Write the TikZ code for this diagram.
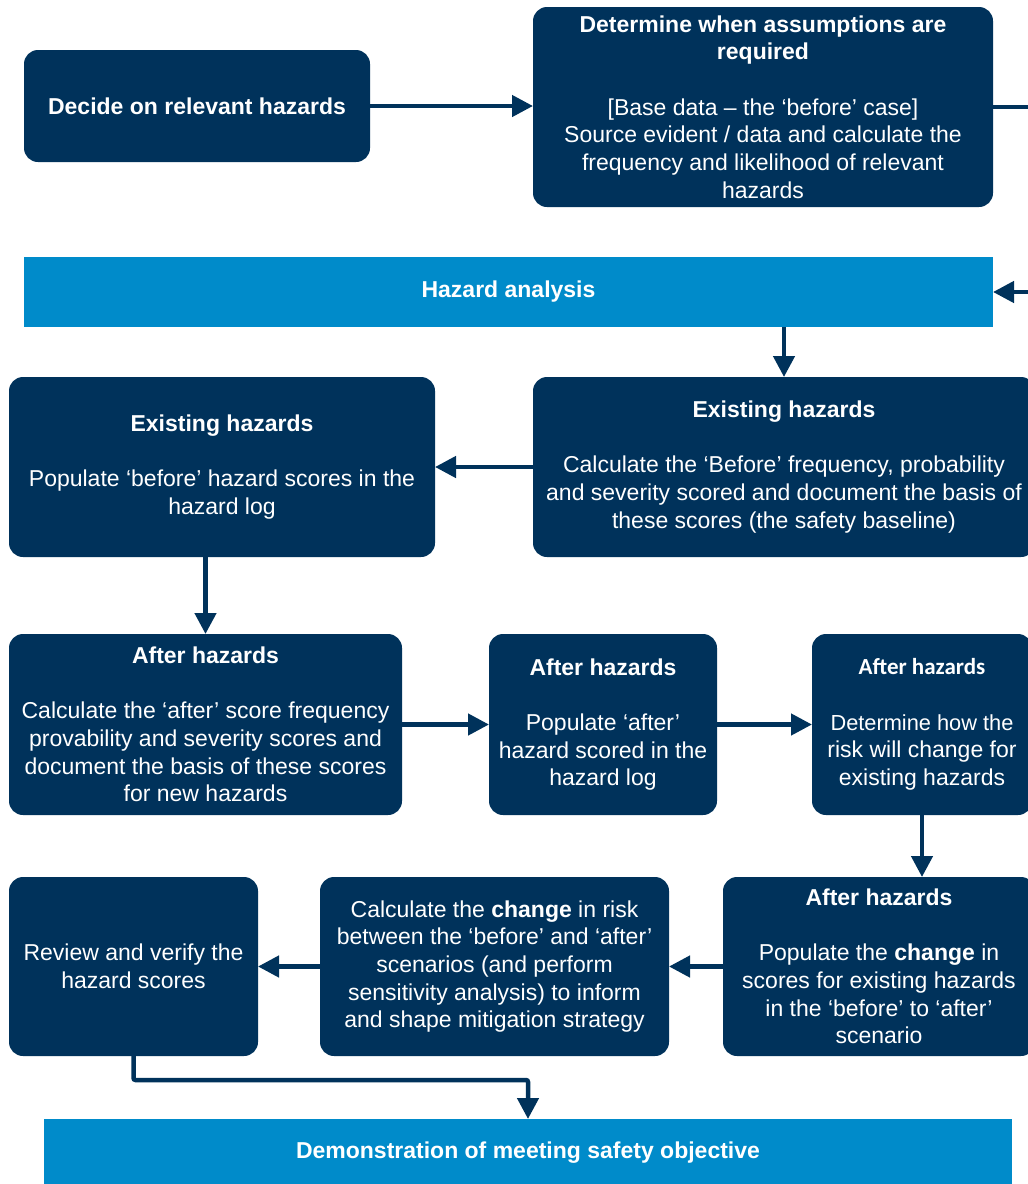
\documentclass[tikz,border=0pt]{standalone}
\usepackage{fontspec}
\setmainfont{Liberation Sans}
\newfontfamily\carlito{Carlito}
\usetikzlibrary{arrows.meta}
\definecolor{navy}{HTML}{00325B}
\definecolor{skyblue}{HTML}{008BCA}

\begin{document}
\begin{tikzpicture}[x = 1pt, y = -1pt, line width = 4.5pt,
  navybox/.style = {fill = navy, rounded corners = 14pt, text = white, align = center,
    inner sep = 0pt, outer sep = 0pt, font = \fontsize{23}{27.7}\selectfont},
  bluebar/.style = {fill = skyblue, text = white, inner sep = 0pt, outer sep = 0pt,
    font = \fontsize{23}{27.7}\selectfont\bfseries},
  flow/.style = {draw = navy, -{Triangle[length = 21pt, width = 21pt]}}]
  \clip (0, 0) rectangle (1028, 1184);
  % top row
  \node[navybox, minimum width = 346pt, minimum height = 112pt] (decide) at (197, 106)
    {\textbf{Decide on relevant hazards}};
  \node[navybox, minimum width = 460pt, minimum height = 200pt] (assume) at (763, 107)
    {\textbf{Determine when assumptions are}\\ \textbf{required}\\[27.7pt]
     {[}Base data -- the ‘before’ case]\\ Source evident / data and calculate the\\
     frequency and likelihood of relevant\\ hazards};
  \node[bluebar, minimum width = 969pt, minimum height = 70pt] (analysis) at (508.5, 292)
    {Hazard analysis};
  % existing hazards
  \node[navybox, minimum width = 502pt, minimum height = 180pt] (exright) at (784, 467)
    {\textbf{Existing hazards}\\[27.7pt] Calculate the ‘Before’ frequency, probability\\
     and severity scored and document the basis of\\ these scores (the safety baseline)};
  \node[navybox, minimum width = 426pt, minimum height = 180pt] (exleft) at (222, 467)
    {\textbf{Existing hazards}\\[27.7pt] Populate ‘before’ hazard scores in the\\ hazard log};
  % after hazards
  \node[navybox, minimum width = 393pt, minimum height = 181pt] (after1) at (205.5, 724.5)
    {\textbf{After hazards}\\[27.7pt] Calculate the ‘after’ score frequency\\
     provability and severity scores and\\ document the basis of these scores\\ for new hazards};
  \node[navybox, minimum width = 228pt, minimum height = 181pt] (after2) at (603, 724.5)
    {\textbf{After hazards}\\[27.7pt] Populate ‘after’\\ hazard scored in the\\ hazard log};
  \node[navybox, minimum width = 220pt, minimum height = 181pt] (after3) at (922, 724.5)
    {\carlito\textbf{After hazards}\\[27.7pt] \fontsize{21.8}{27.7}\selectfont Determine how the\\
     risk will change for\\ existing hazards};
  \node[navybox, minimum width = 312pt, minimum height = 179pt] (after4) at (879, 966.5)
    {\textbf{After hazards}\\[27.7pt] Populate the \textbf{change} in\\ scores for existing hazards\\
     in the ‘before’ to ‘after’\\ scenario};
  \node[navybox, minimum width = 349pt, minimum height = 179pt] (calc) at (494.5, 966.5)
    {Calculate the \textbf{change} in risk\\ between the ‘before’ and ‘after’\\
     scenarios (and perform\\ sensitivity analysis) to inform\\ and shape mitigation strategy};
  \node[navybox, minimum width = 249pt, minimum height = 179pt] (review) at (133.5, 966.5)
    {Review and verify the\\ hazard scores};
  \node[bluebar, minimum width = 968pt, minimum height = 68pt] (demo) at (528, 1153)
    {Demonstration of meeting safety objective};
  % connectors
  \draw[flow] (decide.east) -- (decide.east -| assume.west);
  \draw[flow] (assume.east) -- ++(50, 0) |- (analysis.east);
  \draw[flow] (analysis.south -| exright) -- (exright.north);
  \draw[flow] (exright.west) -- (exleft.east);
  \draw[flow] (exleft.south -| after1) -- (after1.north);
  \draw[flow] (after1.east) -- (after2.west);
  \draw[flow] (after2.east) -- (after3.west);
  \draw[flow] (after3.south) -- (after4.north -| after3);
  \draw[flow] (after4.west) -- (calc.east);
  \draw[flow] (calc.west) -- (review.east);
  \draw[flow, rounded corners = 2pt] (review.south) -- ++(0, 24) -| (demo.north);
\end{tikzpicture}
\end{document}
